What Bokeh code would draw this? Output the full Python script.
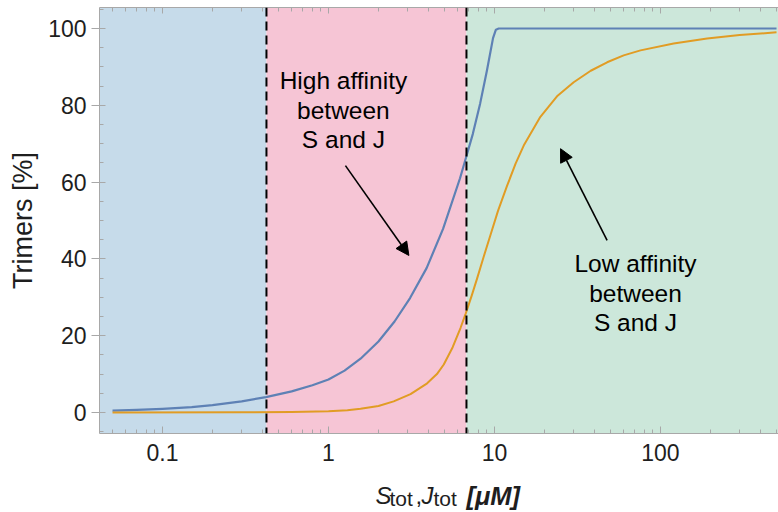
from bokeh.plotting import figure
from bokeh.layouts import column
from bokeh.models import (FixedTicker, LogAxis, BoxAnnotation, Span, Label,
                          Arrow, NormalHead, Range1d, BasicTickFormatter)
from bokeh.embed import file_html
from bokeh.resources import INLINE

# ---- data ----
blue_x = [0.05, 0.07, 0.1, 0.15, 0.2, 0.3, 0.42, 0.6, 0.8, 1.0, 1.25, 1.56, 2.0, 2.5,
          3.1, 3.9, 4.9, 6.2, 6.7, 7.4, 8.2, 9.0, 9.8, 10.2, 10.6, 20, 50, 100, 200, 500]
blue_y = [0.5, 0.7, 0.95, 1.4, 1.9, 2.9, 4.0, 5.5, 7.1, 8.6, 10.9, 14.0, 18.5, 23.7,
          29.8, 37.6, 47.8, 61.0, 66.0, 72.5, 80.5, 89.0, 97.5, 99.7, 100, 100, 100, 100, 100, 100]

orange_x = [0.05, 0.3, 0.6, 1.0, 1.3, 1.56, 2.0, 2.47, 3.12, 3.93, 4.5, 4.95, 5.6, 6.24,
            6.7, 7.3, 7.87, 8.6, 9.5, 10.5, 11.9, 13.4, 15, 18.9, 24, 30, 38, 47.7, 60,
            75.8, 120, 191, 300, 500]
orange_y = [0.0, 0.05, 0.15, 0.35, 0.6, 0.95, 1.7, 2.9, 4.8, 7.6, 10.0, 12.5, 17.0, 22.0,
            25.7, 30.5, 35.0, 40.5, 46.5, 52.5, 59.0, 64.8, 69.5, 77.0, 82.5, 86.0, 89.0, 91.2, 93.0,
            94.3, 96.1, 97.4, 98.3, 99.0]

region_bounds = [0.423, 6.78]

x_tick_values = [0.1, 1, 10, 100]
x_tick_labels = ["0.1", "1", "10", "100"]
x_minor_ticks = [0.05, 0.06, 0.07, 0.08, 0.09, 0.2, 0.3, 0.4, 0.5, 0.6, 0.7, 0.8, 0.9,
                 2, 3, 4, 5, 6, 7, 8, 9, 20, 30, 40, 50, 60, 70, 80, 90, 200, 300, 400, 500]
y_tick_values = [0, 20, 40, 60, 80, 100]
y_minor_ticks = [-5, 5, 10, 15, 25, 30, 35, 45, 50, 55, 65, 70, 75, 85, 90, 95, 105]

FONT = "Liberation Sans"
AXC = "#a8a8a8"
TXT = "#1e1e1e"

p = figure(width=778, height=472, x_axis_type="log",
           x_range=Range1d(0.04174, 514), y_range=Range1d(-5.47, 105.47),
           output_backend="svg", toolbar_location=None,
           min_border_left=99, min_border_right=0, min_border_top=7, min_border_bottom=39)
p.outline_line_color = None
p.grid.visible = False

# shaded regions
p.add_layout(BoxAnnotation(right=region_bounds[0], fill_color="#c6dbea", fill_alpha=1,
                           line_color=None, level="underlay"))
p.add_layout(BoxAnnotation(left=region_bounds[0], right=region_bounds[1], fill_color="#f6c5d5",
                           fill_alpha=1, line_color=None, level="underlay"))
p.add_layout(BoxAnnotation(left=region_bounds[1], fill_color="#cce7da", fill_alpha=1,
                           line_color=None, level="underlay"))

# curves
p.line(blue_x, blue_y, line_color="#5e81b5", line_width=2.2, line_join="round")
p.line(orange_x, orange_y, line_color="#e19c24", line_width=2.0, line_join="round")

# dashed separators
for b in region_bounds:
    p.add_layout(Span(location=b, dimension="height", line_color="black",
                      line_width=2, line_dash="9 5"))

# axes
xt = FixedTicker(ticks=x_tick_values, minor_ticks=x_minor_ticks)
yt = FixedTicker(ticks=y_tick_values, minor_ticks=y_minor_ticks)

xa = p.xaxis[0]
xa.ticker = xt
xa.formatter = BasicTickFormatter()
xa.major_label_overrides = {v: l for v, l in zip(x_tick_values, x_tick_labels)}
xa.major_tick_in = 7
xa.major_tick_out = 0
xa.minor_tick_in = 4
xa.minor_tick_out = 0
xa.major_label_standoff = 10

ya = p.yaxis[0]
ya.ticker = yt
ya.major_tick_in = 6
ya.major_tick_out = 8
ya.minor_tick_in = 4
ya.minor_tick_out = 0
ya.major_label_standoff = 5
ya.axis_label = "Trimers [%]"
ya.axis_label_text_font = FONT
ya.axis_label_text_font_size = "27px"
ya.axis_label_text_font_style = "normal"
ya.axis_label_text_color = TXT
ya.axis_label_standoff = 7

for ax in (xa, ya):
    ax.axis_line_color = AXC
    ax.major_tick_line_color = AXC
    ax.minor_tick_line_color = AXC
    ax.major_label_text_font = FONT
    ax.major_label_text_font_size = "23px"
    ax.major_label_text_color = TXT

top = LogAxis(ticker=xt, major_tick_in=6, major_tick_out=0, minor_tick_in=4, minor_tick_out=0,
              axis_line_color=AXC, major_tick_line_color=AXC, minor_tick_line_color=AXC,
              major_label_text_font_size="0px", major_label_standoff=0)
top.major_label_overrides = {v: "" for v in x_tick_values}
p.add_layout(top, "above")

# annotations
def note(x, y, text):
    p.add_layout(Label(x=x, y=y, text=text, text_font=FONT, text_font_size="24.5px",
                       text_color="black", text_align="center", text_baseline="middle"))

note(1.23, 86.5, "High affinity")
note(1.23, 78.6, "between")
note(1.23, 71.2, "S and J")
note(70.7, 38.8, "Low affinity")
note(70.7, 31.0, "between")
note(70.7, 23.4, "S and J")

p.add_layout(Arrow(end=NormalHead(size=13, fill_color="black", line_color="black"),
                   x_start=1.265, y_start=64.3, x_end=3.05, y_end=40.9,
                   line_width=1.6, line_color="black"))
p.add_layout(Arrow(end=NormalHead(size=13, fill_color="black", line_color="black"),
                   x_start=47.7, y_start=44.8, x_end=25.0, y_end=68.7,
                   line_width=1.6, line_color="black"))

# composite x-axis label, drawn in a thin strip below the plot (pixel coordinates)
q = figure(width=778, height=40, x_range=Range1d(99, 778), y_range=Range1d(0, 40),
           output_backend="svg", toolbar_location=None,
           min_border_left=99, min_border_right=0, min_border_top=0, min_border_bottom=0)
q.axis.visible = False
q.grid.visible = False
q.outline_line_color = None

def lab(x, y, text, size, style="normal"):
    q.add_layout(Label(x=x, y=y, text=text, text_font=FONT, text_font_size=size,
                       text_font_style=style, text_color=TXT, text_align="left",
                       text_baseline="alphabetic"))

lab(375, 17, "S", "24px", "italic")
lab(389, 14, "tot", "21px")
lab(415, 17, ",", "24px")
lab(421, 17, "J", "24px", "italic")
lab(433, 14, "tot", "21px")
lab(466, 17, "[\u03bcM]", "25.5px", "bold italic")

layout = column(p, q, spacing=0)
open("out.html", "w").write(file_html(layout, INLINE))
